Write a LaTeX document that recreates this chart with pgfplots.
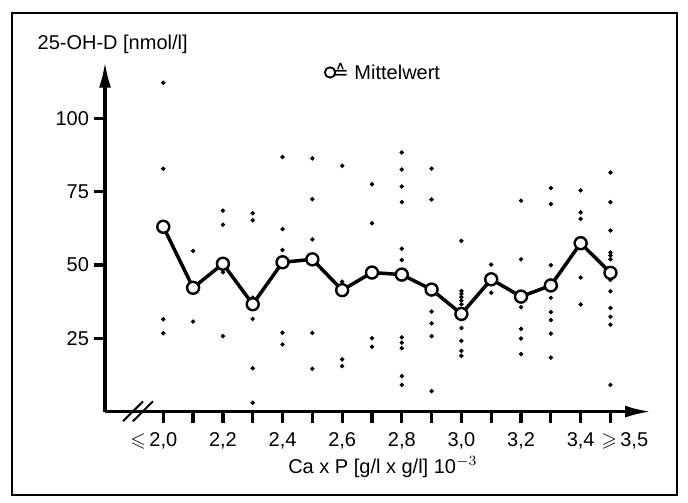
\documentclass[border=0pt]{standalone}
\usepackage{amssymb}
\usepackage{pgfplots}
\pgfplotsset{compat=1.18}
\usetikzlibrary{arrows.meta}
\usepackage{fontspec}
\setmainfont{Liberation Sans}
\newfontfamily\djv{DejaVu Sans}
\newcommand{\lbl}{\fontsize{10}{12}\selectfont}

\pgfplotstableread{
x y
2.0 112.1
2.0 82.8
2.0 31.5
2.0 26.7
2.1 54.8
2.1 30.7
2.2 68.5
2.2 63.7
2.2 47.5
2.2 25.7
2.3 67.6
2.3 65.2
2.3 38.8
2.3 31.6
2.3 14.8
2.3 3.0
2.4 86.8
2.4 62.2
2.4 55.1
2.4 26.9
2.4 22.9
2.5 86.3
2.5 72.4
2.5 58.7
2.5 26.8
2.5 14.6
2.6 83.8
2.6 44.3
2.6 17.8
2.6 15.5
2.7 77.5
2.7 64.2
2.7 25.0
2.7 22.1
2.8 88.3
2.8 82.5
2.8 76.7
2.8 71.4
2.8 55.5
2.8 51.7
2.8 25.3
2.8 23.5
2.8 21.6
2.8 12.1
2.8 9.1
2.9 82.8
2.9 72.3
2.9 34.1
2.9 30.1
2.9 25.7
2.9 7.0
3.0 58.2
3.0 41.1
3.0 40.1
3.0 39.0
3.0 37.8
3.0 36.6
3.0 28.5
3.0 24.1
3.0 20.7
3.0 19.0
3.1 50.1
3.1 40.5
3.2 71.9
3.2 51.9
3.2 35.6
3.2 28.2
3.2 24.9
3.2 19.6
3.3 76.2
3.3 70.7
3.3 49.9
3.3 38.8
3.3 33.9
3.3 31.2
3.3 26.6
3.3 18.4
3.4 75.4
3.4 67.9
3.4 65.7
3.4 45.7
3.4 36.5
3.5 81.5
3.5 71.4
3.5 61.7
3.5 54.2
3.5 53.2
3.5 51.9
3.5 44.9
3.5 41.0
3.5 35.3
3.5 32.3
3.5 29.6
3.5 9.1
}\scatterdata

\pgfplotstableread{
x y
2.0 63.0
2.1 42.2
2.2 50.4
2.3 36.6
2.4 50.9
2.5 51.9
2.6 41.4
2.7 47.4
2.8 46.7
2.9 41.6
3.0 33.3
3.1 45.1
3.2 39.2
3.3 43.0
3.4 57.4
3.5 47.3
}\meandata

\begin{document}
\begin{tikzpicture}[x=1pt,y=1pt]
\path (-52.5,-45.2) rectangle (291.5,205.8);
\draw[line width=1.2pt] (-46.5,-41.7) rectangle (286,199.3);
\begin{axis}[
  at={(0,0)}, anchor=south west,
  scale only axis, width=273pt, height=175pt,
  xmin=1.8045, xmax=3.636, ymin=0, ymax=119.3,
  axis lines=left,
  axis line style={line width=1.6pt, -{Latex[length=13pt,width=6pt]}},
  tick style={line width=1.6pt, black},
  tick align=outside,
  major tick length=5.5pt,
  xtick={2.0,2.1,2.2,2.3,2.4,2.5,2.6,2.7,2.8,2.9,3.0,3.1,3.2,3.3,3.4,3.5},
  xticklabels={{\llap{$\leqslant$\,}2,0},{},{2,2},{},{2,4},{},{2,6},{},{2,8},{},{3,0},{},{3,2},{},{3,4},{\rlap{\hspace*{-4.5pt}$\geqslant$\,3,5}}},
  ytick={25,50,75,100},
  yticklabels={25,50,75,100},
  tick label style={font=\lbl},
  xticklabel style={yshift=-1.5pt},
  yticklabel style={xshift=1pt},
  xlabel={Ca x P [g/l x g/l] 10$^{-3}$},
  xlabel style={font=\lbl, at={(axis description cs:0.509,0)}, anchor=center, yshift=-27.7pt},
  ylabel={25-OH-D [nmol/l]},
  ylabel style={font=\lbl, rotate=-90, at={(axis description cs:0.014,1.05)}, anchor=center},
  legend style={draw=none, fill=none, font=\lbl, at={(axis description cs:0.511,0.969)}, anchor=center,
    inner sep=0pt, legend cell align=left},
  clip=false,
]
\addplot[only marks, mark=*, mark size=0.9pt, black, forget plot] table {\scatterdata};
\addplot[black, line width=1.75pt, mark=*, mark size=3pt,
  mark options={line width=1.2pt, fill=white, draw=black, solid},
  legend image code/.code={\draw[line width=0.9pt, fill=white] (0.3em,0) circle (2.6pt);}]
  table {\meandata};
\addlegendentry{\hspace*{-4pt}{\djv ≙} Mittelwert}
\draw[line width=1pt] (axis cs:1.865,-3.3) -- (axis cs:1.932,3.5);
\draw[line width=1pt] (axis cs:1.898,-3.3) -- (axis cs:1.965,3.5);
\end{axis}
\end{tikzpicture}
\end{document}
